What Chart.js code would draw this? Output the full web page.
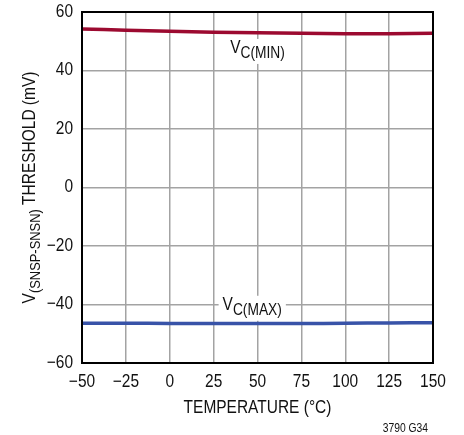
<!DOCTYPE html>
<html>
<head>
<meta charset="utf-8">
<script src="https://cdn.jsdelivr.net/npm/chart.js@4/dist/chart.umd.min.js"></script>
<style>
  body { margin: 0; background: #fff; }
  canvas { display: block; }
</style>
</head>
<body>
<canvas id="thresholdChart" width="464" height="435"></canvas>
<script>
const temps = [-50, -25, 0, 25, 50, 75, 100, 125, 150];
const vcMin = [54.2, 53.8, 53.4, 53.1, 52.9, 52.7, 52.6, 52.6, 52.7];
const vcMax = [-46.4, -46.4, -46.5, -46.5, -46.5, -46.5, -46.4, -46.3, -46.2];
const xTicks = [-50, -25, 0, 25, 50, 75, 100, 125, 150];
const yTicks = [-60, -40, -20, 0, 20, 40, 60];

const FONT = '"Liberation Sans", Arial, sans-serif';
const SQUEEZE = 0.86;   // the original uses a condensed face
const gridGray = '#a3a3a3';
const ink = '#111';

function minus(v) {
    return String(v).replace('-', '\u2212');
}

function toPoints(ys) {
    return temps.map((t, i) => ({ x: t, y: ys[i] }));
}

function textWidth(ctx, txt, size) {
    ctx.font = size + 'px ' + FONT;
    return ctx.measureText(txt).width * SQUEEZE;
}

// condensed text drawn at (x, y)
function drawText(ctx, txt, x, y, size, align, baseline) {
    ctx.save();
    ctx.translate(x, y);
    ctx.scale(SQUEEZE, 1);
    ctx.font = size + 'px ' + FONT;
    ctx.fillStyle = ink;
    ctx.textAlign = align || 'left';
    ctx.textBaseline = baseline || 'alphabetic';
    ctx.fillText(txt, 0, 0);
    ctx.restore();
}

// V + subscript, centred on x
function drawSubLabel(ctx, x, y, main, sub) {
    const w1 = textWidth(ctx, main, 18);
    const w2 = textWidth(ctx, sub, 16);
    const left = x - (w1 + w2) / 2;
    ctx.fillStyle = '#fff';
    ctx.fillRect(left - 4, y - 14, w1 + w2 + 8, 25);
    drawText(ctx, main, left, y, 18);
    drawText(ctx, sub, left + w1, y + 5, 16);
}

const decorPlugin = {
    id: 'decor',
    afterDatasetsDraw(chart) {
        const ctx = chart.ctx;
        const a = chart.chartArea;
        const xs = chart.scales.x;
        const ys = chart.scales.y;
        ctx.save();

        // series labels
        drawSubLabel(ctx, xs.getPixelForValue(50), ys.getPixelForValue(46), 'V', 'C(MIN)');
        drawSubLabel(ctx, xs.getPixelForValue(47), ys.getPixelForValue(-41.8), 'V', 'C(MAX)');

        // frame
        ctx.strokeStyle = '#000';
        ctx.lineWidth = 2;
        ctx.strokeRect(a.left, a.top, a.right - a.left, a.bottom - a.top);

        // tick labels
        xs.ticks.forEach(t => {
            drawText(ctx, minus(t.value), xs.getPixelForValue(t.value), a.bottom + 19, 18, 'center', 'middle');
        });
        ys.ticks.forEach(t => {
            drawText(ctx, minus(t.value), a.left - 9, ys.getPixelForValue(t.value), 18, 'right', 'middle');
        });

        // x title
        drawText(ctx, 'TEMPERATURE (\u00b0C)', (a.left + a.right) / 2, 408, 18, 'center', 'middle');

        // y title, rotated, with subscript
        ctx.save();
        ctx.translate(35, (a.top + a.bottom) / 2);
        ctx.rotate(-Math.PI / 2);
        const wV = textWidth(ctx, 'V', 18);
        const wSub = textWidth(ctx, '(SNSP-SNSN)', 15);
        const wRest = textWidth(ctx, ' THRESHOLD (mV)', 18);
        const x0 = -(wV + wSub + wRest) / 2;
        drawText(ctx, 'V', x0, 0, 18);
        drawText(ctx, '(SNSP-SNSN)', x0 + wV, 5, 15);
        drawText(ctx, ' THRESHOLD (mV)', x0 + wV + wSub, 0, 18);
        ctx.restore();

        // figure id
        drawText(ctx, '3790 G34', 428, 432, 12, 'right');

        ctx.restore();
    }
};

const config = {
    type: 'line',
    data: {
        datasets: [{
            label: 'VC(MIN)',
            data: toPoints(vcMin),
            borderColor: '#9c0a30',
            borderWidth: 3.5,
            pointRadius: 0,
            tension: 0.4
        }, {
            label: 'VC(MAX)',
            data: toPoints(vcMax),
            borderColor: '#3853a8',
            borderWidth: 3.5,
            pointRadius: 0,
            tension: 0.4
        }]
    },
    options: {
        responsive: false,
        animation: false,
        layout: { padding: { left: 0, top: 12, right: 31, bottom: 0 } },
        plugins: {
            legend: { display: false },
            tooltip: { enabled: false }
        },
        scales: {
            x: {
                type: 'linear',
                min: -50,
                max: 150,
                afterBuildTicks: scale => { scale.ticks = xTicks.map(v => ({ value: v })); },
                afterFit: scale => { scale.height = 72; },
                grid: { color: gridGray, lineWidth: 1.5, drawTicks: false },
                border: { display: false },
                ticks: { display: false }
            },
            y: {
                min: -60,
                max: 60,
                afterBuildTicks: scale => { scale.ticks = yTicks.map(v => ({ value: v })); },
                afterFit: scale => { scale.width = 82; },
                grid: { color: gridGray, lineWidth: 1.5, drawTicks: false },
                border: { display: false },
                ticks: { display: false }
            }
        }
    },
    plugins: [decorPlugin]
};

const thresholdChart = new Chart(document.getElementById('thresholdChart'), config);
</script>
</body>
</html>
